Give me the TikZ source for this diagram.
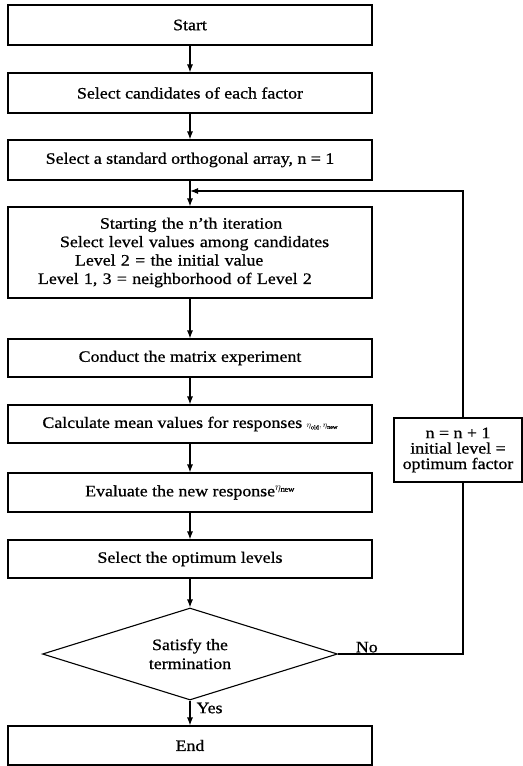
\documentclass[tikz,border=0pt]{standalone}
\usepackage{fontspec}
\setmainfont{Liberation Serif}[FakeStretch=1.12, FakeBold=0.8]
\usepackage{tikz}
\usetikzlibrary{arrows.meta,shapes.geometric}

\begin{document}
\begin{tikzpicture}[x=1bp, y=-1bp,
    stepbox/.style={draw, line width=1.1bp, minimum width=364bp, inner sep=2bp,
      font=\fontsize{16}{18.5}\selectfont},
    decision/.style={draw, diamond, aspect=3.2, line width=1.1bp, inner sep=0pt,
      minimum width=295bp, minimum height=92bp, align=center,
      font=\fontsize{16}{19}\selectfont},
    flow/.style={line width=1.1bp, -{Latex[length=8bp,width=6bp]}},
    wire/.style={line width=1.1bp}]
  \useasboundingbox (0,0) rectangle (523,766);

  % main column
  \node[stepbox, minimum height=40bp] (start) at (190,25) {Start};
  \node[stepbox, minimum height=40bp] (cand) at (190,93) {Select candidates of each factor};
  \node[stepbox, minimum height=40bp] (std) at (190,160) {Select a standard orthogonal array, n = 1};
  \node[stepbox, minimum height=91bp, text width=334bp, inner xsep=15bp, align=left] (iter) at (190,252.5)
    {\hspace*{77bp}Starting the n'th iteration\\
     \hspace*{37bp}Select level values among candidates\\
     \hspace*{52bp}Level 2 = the initial value\\
     \hspace*{15bp}Level 1, 3 = neighborhood of Level 2};
  \node[stepbox, minimum height=38bp] (cond) at (190,358) {Conduct the matrix experiment};
  \node[stepbox, minimum height=38bp] (calc) at (190,424)
    {Calculate mean values for responses {\footnotesize$\eta_{\mathrm{old}}, \eta_{\mathrm{new}}$}};
  \node[stepbox, minimum height=39bp] (eval) at (190,492.5)
    {Evaluate the new response$^{\eta_{\mathrm{new}}}$};
  \node[stepbox, minimum height=38bp] (opt) at (190,559) {Select the optimum levels};
  \node[decision] (dec) at (190,654) {Satisfy the\\termination};
  \node[stepbox, minimum height=39bp] (end) at (190,745.5) {End};

  % update box on the right
  \node[draw, line width=1.1bp, minimum width=128bp, minimum height=64bp, inner sep=2bp,
    align=center, font=\fontsize{16}{15.5}\selectfont] (upd) at (458,450)
    {n = n + 1\\initial level =\\optimum factor};

  \foreach \a/\b in {start/cand, cand/std, std/iter, iter/cond, cond/calc, calc/eval, eval/opt, opt/dec}
    \draw[flow] (\a.south) -- (\b.north);
  \draw[flow] (dec.south) -- node[right, pos=0.3, inner sep=6bp, font=\fontsize{16}{18}\selectfont] {Yes} (end.north);

  % loop back
  \coordinate (back) at (463,654);
  \coordinate (loopin) at (190,191);
  \draw[wire] (dec.east) -- node[above, pos=0.23, inner sep=1bp, font=\fontsize{16}{18}\selectfont] {No} (back)
    -- (back |- upd.south);
  \draw[flow] (back |- upd.north) |- (loopin);
\end{tikzpicture}
\end{document}
